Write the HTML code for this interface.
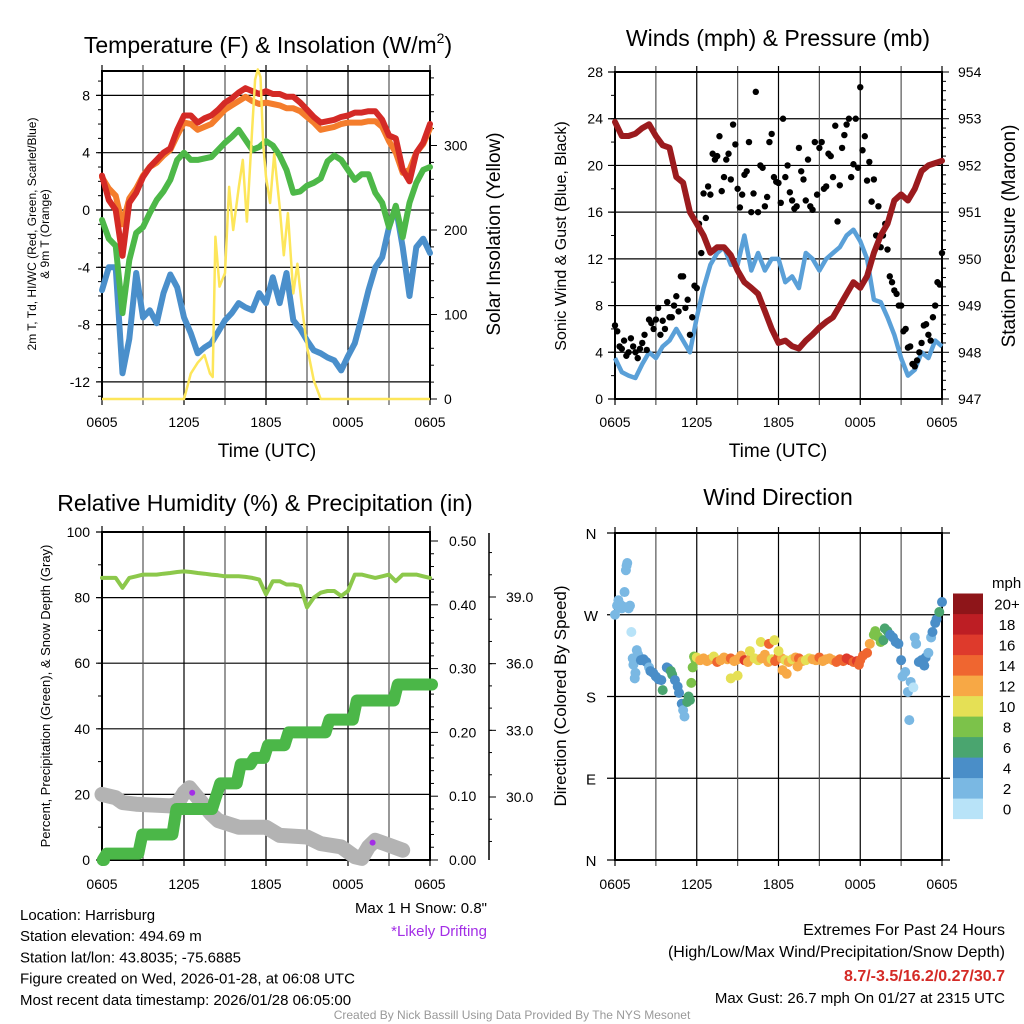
<!DOCTYPE html>
<html><head><meta charset="utf-8"><style>
body{margin:0;background:#fff;width:1024px;height:1024px;overflow:hidden;font-family:"Liberation Sans",sans-serif}
svg{display:block}
text{font-family:"Liberation Sans",sans-serif;fill:#000}
</style></head><body>
<svg id="chart" width="1024" height="1024" viewBox="0 0 1024 1024" xmlns="http://www.w3.org/2000/svg"></svg>
<script>
// ---------- DATA ----------
const hourLabels = ["0605","1205","1805","0005","0605"];
// Panel 1: half-hourly (t = i*0.5 h)
const tempRed = [2.4,0.7,0,-3.2,0.5,1.2,2.3,3,3.5,4,4.3,5.6,6.6,6.6,6.1,6.4,6.6,7,7.5,7.8,8.2,8.5,8.3,8.1,8.3,8.1,8.1,7.9,7.9,7.5,7,6.5,6.1,6.2,6.3,6.5,6.6,6.8,6.8,6.9,6.9,6.3,5.2,5.0,2.8,2.0,4,4.7,6];
const tempOrange = [2.3,1.5,1.0,-1.0,0.8,1.5,2.4,3.0,3.3,3.8,4.2,5.2,6.1,6.0,5.6,5.8,6.0,6.5,7.0,7.3,7.6,7.9,7.6,7.4,7.5,7.4,7.3,7.1,7.1,6.9,6.5,6.1,5.6,5.7,5.8,6.0,6.1,6.1,6.1,6.2,6.2,5.8,4.8,4.0,2.6,2.8,4.0,4.6,5.7];
const dewGreen = [-0.7,-2,-2.5,-7.2,-3.5,-1.6,-1.2,-0.2,0.7,1.3,2.1,3.5,4,3.5,3.5,3.6,3.7,4.2,4.7,5.1,5.6,4.9,4.2,4.4,4.8,4.5,3.8,2.8,1.2,1.3,1.7,1.9,2.2,3.4,3.8,3.5,2.8,2.1,2.5,2.5,1.2,0.5,-1.2,0.3,-1.9,0.5,1.9,2.8,3.0];
const chillBlue = [-5.6,-4,-4,-11.4,-9,-4.4,-7.5,-7,-7.9,-5.8,-4.5,-5.4,-7.5,-8.6,-10,-9.6,-9.3,-8.5,-7.7,-7.2,-6.5,-6.8,-7,-5.8,-6.5,-4.7,-6.5,-4.4,-7.7,-8.3,-9.1,-9.8,-10,-10.3,-10.5,-11.2,-10.2,-9.3,-7.5,-5.6,-4,-3.3,-1.2,0.2,-2.6,-6.0,-2.6,-2,-3];
const solarTimes = [0,6,6.5,7,7.5,7.9,8.1,8.3,8.6,9,9.3,9.6,10,10.3,10.6,11,11.2,11.4,11.6,11.8,12,12.3,12.6,13,13.3,13.6,14,14.3,14.6,15,15.5,16,24];
const solarValues = [0,0,30,43,52,30,26,192,133,149,251,200,250,283,210,322,378,390,381,300,263,232,290,227,170,220,125,160,114,62,22,0,0];
const p1LeftTicks = [8,4,0,-4,-8,-12];
const p1RightTicks = [0,100,200,300];
// Panel 2
const windSpeed = [3.5,2.3,2,1.8,3,4,3.5,4.5,5,6,5,4,7,9.5,11.5,12.5,13,11.5,11.5,14,11,12.5,11,12,12,10,10.5,9.5,12.5,12,11,12,12.5,13,14,14.5,13.5,12,8.5,8.3,7,5.5,3.5,2,2.5,4,3.5,5,4.5];
const pressure = [952.93,952.63,952.63,952.68,952.8,952.88,952.63,952.43,952.38,951.75,951.63,951.0,950.75,950.5,950.13,950.25,950.25,950.08,949.75,949.5,949.38,949.25,948.88,948.5,948.2,948.25,948.13,948.08,948.25,948.38,948.53,948.65,948.75,949.0,949.25,949.5,949.38,949.63,950.13,950.5,950.75,951.25,951.38,951.25,951.5,951.88,952.0,952.05,952.1];
// gusts at t = i/3
const gusts = [6.3,4.5,5,4,4.5,3.5,4.8,4.2,6.5,6.8,5.5,6,7,8,7.5,10.5,8.5,7,9.5,12.5,15.5,17.5,20.5,22.5,19,21,23.5,18,17.5,19.5,16,26.3,20,16.5,22,19,18.5,24,20,17,16.5,19.5,17,16.5,22,21.5,18,21,19,15.2,21.5,23.5,19,24,26.7,22.5,20.3,18.8,16.5,14,12.8,10,9,8,6,4.5,2.8,4,6.3,5.5,7,10,12.5];
// gusts at t = i/3 + 1/6
const gustsB = [5.8,4.3,3.7,5.2,4,4.3,5.5,6.8,6,7.8,6.7,8.3,7,8.8,10.5,7.8,5.5,9.7,15,17.6,18.2,21,20.8,17.8,20.5,18.8,21.8,16.4,19.2,22,17.6,16,19.8,17.3,22.7,18.6,16.8,19,17.7,16.3,21.5,18.8,20.5,16.2,17.5,22,18.2,20.8,23.4,18.3,22.6,24,20.1,19.8,21.3,18.7,16.9,14,13,15,10.5,9.3,8,5.8,4.4,3,3.3,4.8,6.4,5,8,9.8];
const p2LeftTicks = [0,4,8,12,16,20,24,28];
const p2RightTicks = [947,948,949,950,951,952,953,954];
// Panel 3
const relHum = [86,86,86,83,86,86.5,87,87,87,87.3,87.5,87.8,88,87.8,87.5,87.3,87,86.8,86.5,86.5,86.5,86.3,86,85.5,81,85,85,84,84,83.5,77,80,81.5,82,82,80.5,82,87,87,86.5,86,86.5,87,85,87,87,87,86.5,86];
const precipTimes = [0,0.2,2.8,5.3,8.2,8.5,10,11,12,13.5,16.5,18.5,21.5,24];
const precipValues = [0,0.01,0.04,0.08,0.10,0.12,0.15,0.16,0.18,0.20,0.22,0.25,0.275,0.275];
const snowTimes = [0,1,1.5,2.5,5,5.5,6,6.4,7,8,8.5,10,12,13,15,16,17.5,18.5,19,19.5,20,21,22];
const snowValues = [20,19,17.5,17,16.5,17,20.5,22,19,14,12,10,10,7.5,7,5,4,1,0.5,4,6,4.5,3];
const driftTimes = [6.6,19.8];
const driftValues = [20.5,5.3];
const p3LeftTicks = [0,20,40,60,80,100];
const p3RightTicks = ["0.00","0.10","0.20","0.30","0.40","0.50"];
const p3SnowTicks = ["30.0","33.0","36.0","39.0"];
// Panel 4
const dirTimes = [0,0.15,0.25,0.4,0.5,0.6,0.7,0.8,0.85,0.9,1.0,1.1,1.2,1.3,1.35,1.45,1.5,1.6,1.7,1.9,2.1,2.3,2.5,2.6,2.8,3.0,3.2,3.4,3.5,3.8,3.9,4.1,4.2,4.4,4.6,4.7,4.9,5.0,5.1,5.3,5.4,5.5,5.6,5.7,5.8,5.9,
6,6.25,6.5,6.75,7,7.25,7.5,7.75,8,8.25,8.5,8.75,9,9.25,9.5,9.75,10,10.25,10.5,10.75,11,11.25,11.5,11.75,12,12.25,12.5,12.75,13,13.25,13.5,13.75,14,14.25,14.5,14.75,15,15.25,15.5,15.75,16,16.25,16.5,16.75,17,17.25,17.5,17.75,18,
8.5,9.0,10.7,11.3,11.7,12.0,13.4,12.6,9.9,12.3,17.9,
18.2,18.5,18.7,19.0,19.1,19.3,19.5,19.7,19.8,20.0,20.2,20.4,20.6,20.8,21.0,21.1,21.3,21.5,21.6,21.7,21.9,22.0,22.1,22.3,22.5,22.7,22.8,23.0,23.2,23.3,23.5,23.6,23.8,24];
const dirValues = [270,280,286,281,277,279,295,319,324,327,277,280,251,222,215,200,206,231,226,220,221,218,212,208,206,202,199,198,187,212,211,208,204,198,191,184,172,165,158,174,180,176,195,212,224,220,
223,220,222,219,221,224,218,220,223,221,222,219,221,225,220,218,223,222,220,222,226,218,221,219,224,222,220,218,221,223,222,219,220,222,221,220,223,219,221,222,220,218,221,219,222,220,218,219,220,
200,203,240,238,242,230,213,205,230,209,215,
225,228,238,248,252,246,240,242,255,252,248,245,240,238,220,202,207,185,154,196,190,245,238,218,220,214,223,228,245,251,261,265,273,284];
const dirSpeeds = [2,2,3,2,2,3,3,2,2,2,2,2,1,2,2,2,2,2,3,4,4,4,3,4,4,4,4,4,6,4,5,6,6,4,4,4,4,2,2,6,6,7,8,8,8,9,
10,12,12,13,12,11,14,12,13,12,14,12,13,12,17,13,12,11,10,12,13,12,11,14,15,12,10,13,11,12,14,12,10,11,13,12,15,12,12,13,12,14,15,14,16,16,15,16,14,
10,10,10,14,10,10,12,12,10,12,15,
14,14,13,8,8,8,8,7,6,6,4,4,4,4,4,2,2,2,2,2,1,2,2,4,4,4,4,2,2,4,4,4,6,4];
const compassLabels = ["N","W","S","E","N"];
const speedColors = ["#b8e3f8","#7ab8e3","#4a8ec8","#4aa56f","#7cc24a","#e5e055","#f7a845","#ef6630","#de3a2c","#bd1e24","#8e1519"];
const speedLabels = ["0","2","4","6","8","10","12","14","16","18","20+"];

// ---------- HELPERS ----------
const NS="http://www.w3.org/2000/svg";
const svg=document.getElementById('chart');
function el(tag,attrs,parent,txt){const e=document.createElementNS(NS,tag);for(const k in attrs)e.setAttribute(k,attrs[k]);if(txt!==undefined)e.textContent=txt;(parent||svg).appendChild(e);return e;}
function grp(name){const g=el('g',{},svg);


return g;}
function lin(d0,d1,r0,r1){return v=>r0+(v-d0)*(r1-r0)/(d1-d0);}
function pathD(xs,ys){return xs.map((x,i)=>(i?'L':'M')+x.toFixed(1)+','+ys[i].toFixed(1)).join('');}
const halfHours=tempRed.map((_,i)=>i*0.5);

function frame(g,L,R,T,B,xs){
  for(let h=0;h<=24;h+=3){const x=xs(h);el('line',{x1:x,y1:T-6,x2:x,y2:B+6,stroke:(h%6===0)?'#000':'#555','stroke-width':1.2},g);}
  el('rect',{x:L,y:T,width:R-L,height:B-T,fill:'none',stroke:'#000','stroke-width':2},g);
}
function xLabels(g,xs,y){hourLabels.forEach((l,i)=>{const t=el('text',{x:xs(i*6),y:y,'font-size':14,'text-anchor':'middle'},g,l);

});}

// ---------- PANEL 1 ----------
(function(){
const g=grp('temperature-panel');
const L=102,R=430,T=71,B=399;
const xs=lin(0,24,L,R), ys=lin(0,-4,210,267.3), ysol=lin(0,100,399,314.5);
for(const v of p1LeftTicks){const y=ys(v);el('line',{x1:L-6,y1:y,x2:R,y2:y,stroke:'#000','stroke-width':1.2},g);}
for(let v=-13;v<=9;v++){const y=ys(v);el('line',{x1:L-4,y1:y,x2:L,y2:y,stroke:'#000','stroke-width':1},g);}
for(let v=0;v<=380;v+=20){const y=ysol(v);el('line',{x1:R,y1:y,x2:R+(v%100?4:7),y2:y,stroke:'#000','stroke-width':1},g);}
frame(g,L,R,T,B,xs);
const series=[[chillBlue,'#4a8fcb','wind-chill-line'],[dewGreen,'#4db848','dewpoint-line'],[tempOrange,'#f47d2c','temp-9m-line'],[tempRed,'#d42a26','temp-2m-line']];
for(const [arr,c,n] of series){const p=el('path',{d:pathD(halfHours.map(xs),arr.map(ys)),fill:'none',stroke:c,'stroke-width':6,'stroke-linejoin':'round','stroke-linecap':'round'},g);

}
const sp=el('path',{d:pathD(solarTimes.map(xs),solarValues.map(ysol)),fill:'none',stroke:'#fde65a','stroke-width':2.5,'stroke-linejoin':'round'},g);


p1LeftTicks.forEach(v=>el('text',{x:L-12,y:ys(v)+5,'font-size':14,'text-anchor':'end'},g,String(v)));
p1RightTicks.forEach(v=>el('text',{x:R+14,y:ysol(v)+5,'font-size':14},g,String(v)));
xLabels(g,xs,427);
const tt=el('text',{x:268,y:53,'font-size':23,'text-anchor':'middle'},g);
el('tspan',{},tt,'Temperature (F) & Insolation (W/m');
el('tspan',{dy:-10,'font-size':14},tt,'2');
el('tspan',{dy:10},tt,')');
el('text',{x:267,y:457,'font-size':19,'text-anchor':'middle'},g,'Time (UTC)');
el('text',{transform:'translate(36,234) rotate(-90)','font-size':12,'text-anchor':'middle'},g,'2m T, Td, HI/WC (Red, Green, Scarlet/Blue)');
el('text',{transform:'translate(49,234) rotate(-90)','font-size':12,'text-anchor':'middle'},g,'& 9m T (Orange)');
el('text',{transform:'translate(500,234) rotate(-90)','font-size':19,'text-anchor':'middle'},g,'Solar Insolation (Yellow)');
})();

// ---------- PANEL 2 ----------
(function(){
const g=grp('winds-pressure-panel');
const L=615,R=942,T=72,B=399;
const xs=lin(0,24,L,R), ys=lin(0,28,B,T), yp=lin(947,954,B,T);
for(const v of p2LeftTicks){const y=ys(v);el('line',{x1:L-7,y1:y,x2:R,y2:y,stroke:'#000','stroke-width':1.2},g);}
for(let v=0;v<=28;v+=2){el('line',{x1:L-4,y1:ys(v),x2:L,y2:ys(v),stroke:'#000'},g);}
for(let v=947;v<=954.01;v+=0.2){const y=yp(v);el('line',{x1:R,y1:y,x2:R+(Math.abs(v-Math.round(v))<0.01?7:4),y2:y,stroke:'#000','stroke-width':1},g);}
frame(g,L,R,T,B,xs);
const bp=el('path',{d:pathD(halfHours.map(xs),windSpeed.map(ys)),fill:'none',stroke:'#5aa0d8','stroke-width':4.5,'stroke-linejoin':'round'},g);


gusts.forEach((v,i)=>{const c=el('circle',{cx:xs(i/3),cy:ys(v),r:3.2,fill:'#000'},g);

});
gustsB.forEach((v,i)=>{const c=el('circle',{cx:xs(i/3+1/6),cy:ys(v),r:3.2,fill:'#000'},g);

});
const pp=el('path',{d:pathD(halfHours.map(xs),pressure.map(yp)),fill:'none',stroke:'#9b1b1e','stroke-width':6,'stroke-linejoin':'round','stroke-linecap':'round'},g);


p2LeftTicks.forEach(v=>el('text',{x:L-12,y:ys(v)+5,'font-size':14,'text-anchor':'end'},g,String(v)));
p2RightTicks.forEach(v=>el('text',{x:R+16,y:yp(v)+5,'font-size':14},g,String(v)));
xLabels(g,xs,427);
el('text',{x:778,y:46,'font-size':23,'text-anchor':'middle'},g,'Winds (mph) & Pressure (mb)');
el('text',{x:778,y:457,'font-size':19,'text-anchor':'middle'},g,'Time (UTC)');
el('text',{transform:'translate(566,236) rotate(-90)','font-size':16,'text-anchor':'middle'},g,'Sonic Wind & Gust (Blue, Black)');
el('text',{transform:'translate(1015,236) rotate(-90)','font-size':19,'text-anchor':'middle'},g,'Station Pressure (Maroon)');
})();

// ---------- PANEL 3 ----------
(function(){
const g=grp('humidity-precip-panel');
const L=102,R=430,T=532,B=860;
const xs=lin(0,24,L,R), ys=lin(0,100,B,T), ypr=lin(0,0.5,B,541), ysn=lin(30,39,797,597);
for(const v of p3LeftTicks){const y=ys(v);el('line',{x1:L-6,y1:y,x2:R,y2:y,stroke:'#000','stroke-width':1.2},g);}
for(let v=0;v<=100;v+=10){el('line',{x1:L-4,y1:ys(v),x2:L,y2:ys(v),stroke:'#000'},g);}
for(let v=0;v<=0.5001;v+=0.02){const y=ypr(v);el('line',{x1:R,y1:y,x2:R+(Math.round(v*100)%10===0?8:4),y2:y,stroke:'#000'},g);}
frame(g,L,R,T,B,xs);
el('line',{x1:489,y1:533,x2:489,y2:860,stroke:'#000','stroke-width':1.5},g);
for(let v=28;v<=41;v++){const y=ysn(v);el('line',{x1:489,y1:y,x2:492,y2:y,stroke:'#000'},g);}
p3SnowTicks.forEach(v=>{const y=ysn(+v);el('line',{x1:489,y1:y,x2:496,y2:y,stroke:'#000'},g);el('text',{x:506,y:y+5,'font-size':14},g,v);});
const sn=el('path',{d:pathD(snowTimes.map(xs),snowValues.map(ys)),fill:'none',stroke:'#b3b3b3','stroke-width':15,'stroke-linejoin':'round','stroke-linecap':'round'},g);


driftTimes.forEach((t,i)=>{const c=el('circle',{cx:xs(t),cy:ys(driftValues[i]),r:3,fill:'#a32ee6'},g);

});
const px=[],py=[];
precipTimes.forEach((t,i)=>{if(i>0){px.push(xs(t)-2);py.push(ypr(precipValues[i-1]));}px.push(xs(t)+2);py.push(ypr(precipValues[i]));});
const pr=el('path',{d:pathD(px,py),fill:'none',stroke:'#4bb748','stroke-width':12,'stroke-linejoin':'round','stroke-linecap':'round'},g);


const rh=el('path',{d:pathD(halfHours.map(xs),relHum.map(ys)),fill:'none',stroke:'#8cc84b','stroke-width':4,'stroke-linejoin':'round','stroke-linecap':'round'},g);


p3LeftTicks.forEach(v=>el('text',{x:L-12,y:ys(v)+5,'font-size':14,'text-anchor':'end'},g,String(v)));
p3RightTicks.forEach(v=>el('text',{x:449,y:ypr(+v)+5,'font-size':14},g,v));
xLabels(g,xs,889);
el('text',{x:265,y:511,'font-size':23,'text-anchor':'middle'},g,'Relative Humidity (%) & Precipitation (in)');
el('text',{transform:'translate(50,696) rotate(-90)','font-size':13,'text-anchor':'middle'},g,'Percent, Precipitation (Green), & Snow Depth (Gray)');
})();

// ---------- PANEL 4 ----------
(function(){
const g=grp('wind-direction-panel');
const L=615,R=942,T=533,B=860;
const xs=lin(0,24,L,R), ys=lin(0,360,B,T);
compassLabels.forEach((l,i)=>{const y=ys(360-i*90);el('line',{x1:L-8,y1:y,x2:R+8,y2:y,stroke:'#000','stroke-width':1.2},g);el('text',{x:L-24,y:y+6,'font-size':15,'text-anchor':'middle'},g,l);});
frame(g,L,R,T,B,xs);
dirTimes.forEach((t,i)=>{const c=el('circle',{cx:xs(t),cy:ys(dirValues[i]),r:5,fill:speedColors[Math.min(10,Math.floor(dirSpeeds[i]/2))]},g);

});
xLabels(g,xs,889);
el('text',{x:778,y:505,'font-size':23,'text-anchor':'middle'},g,'Wind Direction');
el('text',{transform:'translate(566,696) rotate(-90)','font-size':17,'text-anchor':'middle'},g,'Direction (Colored By Speed)');
const lg=grp('speed-colorbar');
el('text',{x:992,y:588,'font-size':15},lg,'mph');
speedColors.forEach((c,i)=>{const y=819-(i+1)*20.5;el('rect',{x:953,y:y,width:30,height:20.6,fill:c},lg);el('text',{x:1007,y:y+16,'font-size':15,'text-anchor':'middle'},lg,speedLabels[i]);});
})();

// ---------- FOOTER TEXT ----------
(function(){
const g=grp('station-info');
const lines=["Location: Harrisburg","Station elevation: 494.69 m","Station lat/lon: 43.8035; -75.6885","Figure created on Wed, 2026-01-28, at 06:08 UTC","Most recent data timestamp: 2026/01/28 06:05:00"];
lines.forEach((l,i)=>el('text',{x:20,y:920+i*21.2,'font-size':15},g,l));
el('text',{x:487,y:913,'font-size':15,'text-anchor':'end',fill:'#222'},g,'Max 1 H Snow: 0.8"');
const d=el('text',{x:487,y:936,'font-size':15,'text-anchor':'end'},g,'*Likely Drifting');d.style.fill='#a32ee6';
const r=grp('extremes-summary');
el('text',{x:1005,y:935,'font-size':16,'text-anchor':'end'},r,'Extremes For Past 24 Hours');
el('text',{x:1005,y:957,'font-size':16,'text-anchor':'end'},r,'(High/Low/Max Wind/Precipitation/Snow Depth)');
const e=el('text',{x:1005,y:981,'font-size':16,'font-weight':'bold','text-anchor':'end'},r,'8.7/-3.5/16.2/0.27/30.7');e.style.fill='#d42a26';
el('text',{x:1005,y:1003,'font-size':15,'text-anchor':'end'},r,'Max Gust: 26.7 mph On 01/27 at 2315 UTC');
const f=el('text',{x:512,y:1019,'font-size':12,'text-anchor':'middle'},svg,'Created By Nick Bassill Using Data Provided By The NYS Mesonet');f.style.fill='#999';


})();
</script>
</body></html>
